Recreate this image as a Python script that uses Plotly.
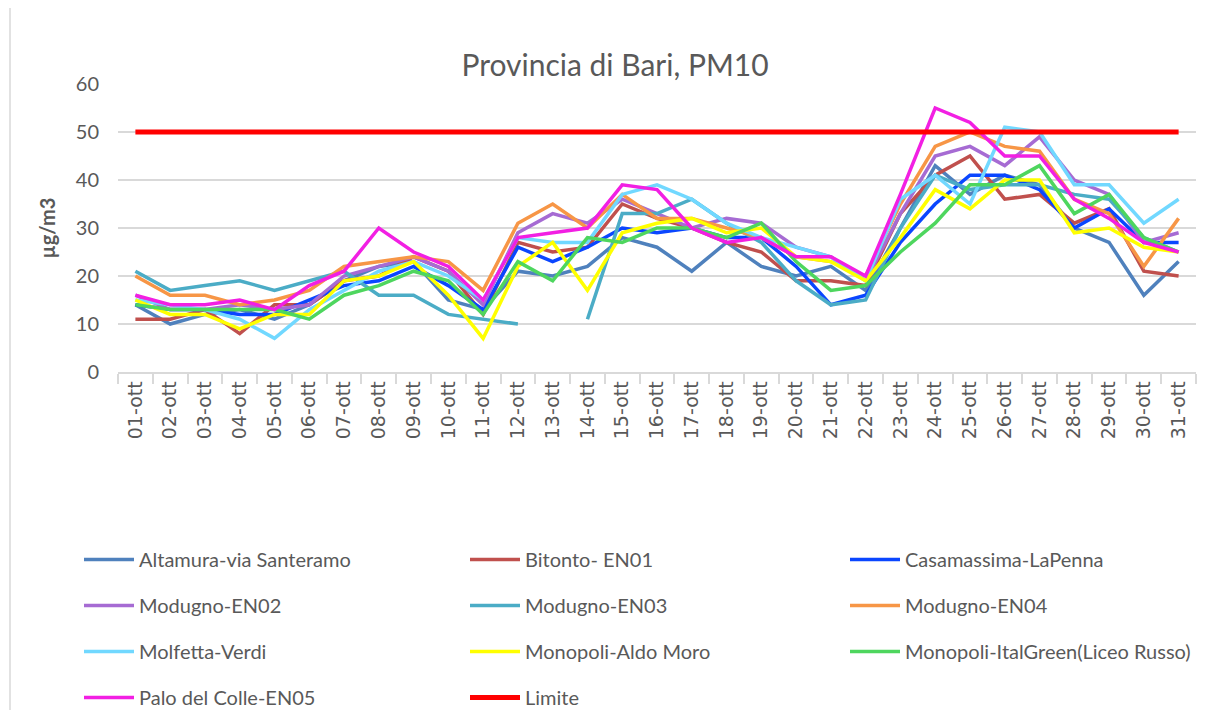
import plotly.graph_objects as go

days = [f"{d:02d}-ott" for d in range(1, 32)]

altamura = [14, 10, 12, 13, 11, 14, 19, 22, 23, 15, 13, 21, 20, 22, 28, 26, 21, 27, 22, 20, 22, 17, 30, 43, 37, 41, 39, 30, 27, 16, 23]
bitonto = [11, 11, 13, 8, 14, 14, 19, 20, 24, 21, 12, 27, 25, 26, 35, 32, 30, 27, 25, 19, 19, 18, 33, 41, 45, 36, 37, 31, 34, 21, 20]
casamassima = [14, 13, 13, 12, 12, 15, 18, 19, 22, 18, 13, 26, 23, 26, 30, 29, 30, 28, 28, 22, 14, 16, 27, 35, 41, 41, 38, 30, 34, 27, 27]
modugno_en02 = [16, 13, 13, 14, 13, 14, 20, 22, 24, 21, 14, 29, 33, 31, 36, 33, 30, 32, 31, 26, 24, 19, 33, 45, 47, 43, 49, 40, 37, 27, 29]
modugno_en03 = [21, 17, 18, 19, 17, 19, 21, 16, 16, 12, 11, 10, None, 11, 33, 33, 36, 31, 27, 19, 14, 15, 30, 41, 38, 39, 39, 37, 36, 28, 25]
modugno_en04 = [20, 16, 16, 14, 15, 17, 22, 23, 24, 23, 17, 31, 35, 30, 37, 32, 32, 30, 28, 24, 23, 20, 35, 47, 50, 47, 46, 36, 33, 22, 32]
molfetta = [15, 14, 13, 11, 7, 13, 17, 21, 23, 20, 15, 28, 27, 27, 37, 39, 36, 31, 28, 26, 24, 19, 36, 41, 35, 51, 50, 39, 39, 31, 36]
monopoli_am = [15, 12, 12, 9, 12, 12, 19, 20, 23, 16, 7, 22, 27, 17, 29, 31, 32, 29, 30, 24, 23, 19, 28, 38, 34, 40, 40, 29, 30, 26, 25]
monopoli_ig = [14, 13, 13, 13, 13, 11, 16, 18, 21, 19, 12, 23, 19, 28, 27, 30, 30, 28, 31, 23, 17, 18, 25, 31, 39, 39, 43, 33, 37, 28, 25]
palo = [16, 14, 14, 15, 13, 18, 21, 30, 25, 22, 15, 28, 29, 30, 39, 38, 30, 27, 28, 24, 24, 20, 37, 55, 52, 45, 45, 36, 32, 27, 25]
limite = [50] * 31

y_ticks = [0, 10, 20, 30, 40, 50, 60]

series = [
    ("Altamura-via Santeramo", altamura, "#4F81BD", "legend"),
    ("Bitonto- EN01", bitonto, "#C0504D", "legend2"),
    ("Casamassima-LaPenna", casamassima, "#0A46FF", "legend3"),
    ("Modugno-EN02", modugno_en02, "#A66BD3", "legend"),
    ("Modugno-EN03", modugno_en03, "#4BACC6", "legend2"),
    ("Modugno-EN04", modugno_en04, "#F79646", "legend3"),
    ("Molfetta-Verdi", molfetta, "#71D8FF", "legend"),
    ("Monopoli-Aldo Moro", monopoli_am, "#FFFF00", "legend2"),
    ("Monopoli-ItalGreen(Liceo Russo)", monopoli_ig, "#4ED65E", "legend3"),
    ("Palo del Colle-EN05", palo, "#F21FE3", "legend"),
    ("Limite", limite, "#FF0000", "legend2"),
]

fig = go.Figure()
for name, vals, color, lg in series:
    fig.add_trace(go.Scatter(
        x=days, y=vals, name=name, mode="lines",
        line=dict(color=color, width=5 if name == "Limite" else 3.5),
        connectgaps=False, legend=lg, legendgroup=name,
    ))

font_main = "Lato, Open Sans, sans-serif"
grey = "#595959"

# figure-pixel geometry of the plot area (page has an 8px body offset)
PL, PT, PR, PB = 110, 76, 1188, 364
PW, PH = PR - PL, PB - PT

def leg(xpix):
    return dict(
        orientation="v", x=(xpix - PL) / PW, xanchor="left",
        y=(PB - 532) / PH, yanchor="top",
        tracegroupgap=17,
        font=dict(family=font_main, size=20, color=grey),
        bgcolor="rgba(0,0,0,0)", itemwidth=50,
    )

W, H = 1208, 710
fig.update_layout(
    width=W, height=H,
    margin=dict(l=PL, r=W - PR, t=PT, b=H - PB, autoexpand=False),
    paper_bgcolor="white", plot_bgcolor="white",
    title=dict(text="Provincia di Bari, PM10", x=607 / W, xref="container", xanchor="center",
               y=1 - 57 / H, yref="container", yanchor="middle",
               font=dict(family=font_main, size=30, color=grey)),
    legend=leg(71), legend2=leg(457), legend3=leg(837),
    xaxis=dict(
        type="category", tickangle=-90, tickson="boundaries",
        ticks="outside", ticklen=10, tickcolor="#D9D9D9", tickwidth=1.5,
        showline=True, linecolor="#D9D9D9", linewidth=1.5,
        showgrid=False, range=[-0.5, 30.5],
        tickfont=dict(family="DejaVu Sans", size=19, color=grey),
    ),
    yaxis=dict(
        range=[0, 60], tickvals=y_ticks,
        showgrid=True, gridcolor="#D9D9D9", gridwidth=1.5,
        zeroline=False, showline=False,
        tickfont=dict(family=font_main, size=20, color=grey),
        ticklabelstandoff=18,
        title=dict(text="<b>µg/m3</b>", font=dict(family=font_main, size=20, color=grey), standoff=14),
    ),
    showlegend=True,
)

# chart area border (left edge)
fig.add_shape(type="line", xref="paper", yref="paper",
              x0=(2 - PL) / PW, x1=(2 - PL) / PW,
              y0=(PB + 8) / PH, y1=(PB - H) / PH,
              line=dict(color="#D9D9D9", width=1.5))

fig.write_html("out.html")
